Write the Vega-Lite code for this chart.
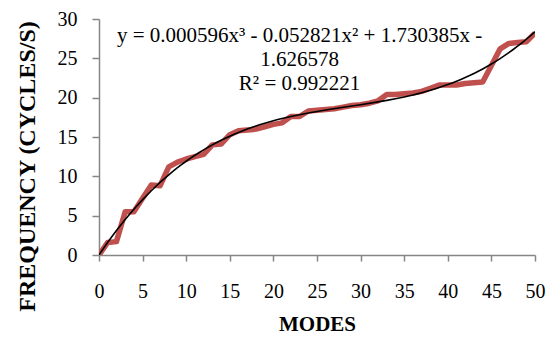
{
  "$schema": "https://vega.github.io/schema/vega-lite/v6.json",
  "autosize": "none",
  "width": 436,
  "height": 236,
  "padding": {"left": 99, "top": 19, "right": 20, "bottom": 85},
  "background": "white",
  "config": {
    "view": {"stroke": null},
    "font": "Liberation Serif",
    "axis": {
      "grid": false,
      "domainColor": "#868686",
      "tickColor": "#868686",
      "domainWidth": 1.5,
      "tickWidth": 1.5,
      "labelFont": "Liberation Serif",
      "labelFontSize": 20,
      "labelColor": "black",
      "labelOverlap": false,
      "titleFont": "Liberation Serif",
      "titleFontWeight": "bold",
      "titleColor": "black",
      "titleFontSize": 21
    }
  },
  "layer": [
    {
      "data": {
        "values": [
          {"mode": 0, "freq": 0}, {"mode": 1, "freq": 1.6}, {"mode": 2, "freq": 1.7},
          {"mode": 3, "freq": 5.5}, {"mode": 4, "freq": 5.5}, {"mode": 5, "freq": 7.2},
          {"mode": 6, "freq": 8.9}, {"mode": 7, "freq": 8.8}, {"mode": 8, "freq": 11.2},
          {"mode": 9, "freq": 11.8}, {"mode": 10, "freq": 12.2}, {"mode": 11, "freq": 12.5},
          {"mode": 12, "freq": 12.8}, {"mode": 13, "freq": 14.0}, {"mode": 14, "freq": 14.1},
          {"mode": 15, "freq": 15.3}, {"mode": 16, "freq": 15.8}, {"mode": 17, "freq": 15.9},
          {"mode": 18, "freq": 16.0}, {"mode": 19, "freq": 16.3}, {"mode": 20, "freq": 16.6},
          {"mode": 21, "freq": 16.8}, {"mode": 22, "freq": 17.6}, {"mode": 23, "freq": 17.6},
          {"mode": 24, "freq": 18.3}, {"mode": 25, "freq": 18.4}, {"mode": 26, "freq": 18.5},
          {"mode": 27, "freq": 18.6}, {"mode": 28, "freq": 18.8}, {"mode": 29, "freq": 19.0},
          {"mode": 30, "freq": 19.1}, {"mode": 31, "freq": 19.3}, {"mode": 32, "freq": 19.6},
          {"mode": 33, "freq": 20.4}, {"mode": 34, "freq": 20.4}, {"mode": 35, "freq": 20.5},
          {"mode": 36, "freq": 20.6}, {"mode": 37, "freq": 20.8}, {"mode": 38, "freq": 21.2},
          {"mode": 39, "freq": 21.6}, {"mode": 40, "freq": 21.6}, {"mode": 41, "freq": 21.6},
          {"mode": 42, "freq": 21.8}, {"mode": 43, "freq": 21.9}, {"mode": 44, "freq": 22.0},
          {"mode": 45, "freq": 24.1}, {"mode": 46, "freq": 26.2}, {"mode": 47, "freq": 26.9},
          {"mode": 48, "freq": 27.0}, {"mode": 49, "freq": 27.1}, {"mode": 50, "freq": 28.2}
        ]
      },
      "encoding": {
        "x": {
          "field": "mode", "type": "quantitative",
          "scale": {"domain": [0, 50], "nice": false},
          "axis": {"title": "MODES", "values": [0, 5, 10, 15, 20, 25, 30, 35, 40, 45, 50], "tickSize": 6, "labelPadding": 20, "titlePadding": 12, "labelFlush": false, "labelOverlap": false}
        },
        "y": {
          "field": "freq", "type": "quantitative",
          "scale": {"domain": [0, 30], "nice": false},
          "axis": {"title": "FREQUENCY (CYCLES/S)", "values": [0, 5, 10, 15, 20, 25, 30], "tickSize": 7, "labelPadding": 15, "titlePadding": 18, "titleFontSize": 24, "titleY": 147, "labelOverlap": false, "labelFlush": false, "labelBound": false}
        }
      },
      "layer": [
        {
          "mark": {"type": "line", "color": "#C0504D", "strokeWidth": 5.5, "strokeJoin": "round", "clip": true}
        },
        {
          "transform": [
            {"regression": "freq", "on": "mode", "method": "poly", "order": 3, "extent": [0, 50]}
          ],
          "mark": {"type": "line", "color": "black", "strokeWidth": 1.6, "clip": true}
        }
      ]
    },
    {
      "data": {"values": [{"label": "equation"}]},
      "mark": {
        "type": "text", "font": "Liberation Serif", "fontSize": 21, "fill": "black",
        "align": "center", "baseline": "middle", "lineHeight": 24
      },
      "encoding": {
        "x": {
          "datum": 23, "type": "quantitative",
          "scale": {"domain": [0, 50], "nice": false},
          "axis": {"title": "MODES", "values": [0, 5, 10, 15, 20, 25, 30, 35, 40, 45, 50], "tickSize": 6, "labelPadding": 20, "titlePadding": 12, "labelFlush": false, "labelOverlap": false}
        },
        "y": {
          "datum": 27.9, "type": "quantitative",
          "scale": {"domain": [0, 30], "nice": false},
          "axis": {"title": "FREQUENCY (CYCLES/S)", "values": [0, 5, 10, 15, 20, 25, 30], "tickSize": 7, "labelPadding": 15, "titlePadding": 18, "titleFontSize": 24, "titleY": 147, "labelOverlap": false, "labelFlush": false, "labelBound": false}
        },
        "text": {"value": ["y = 0.000596x³ - 0.052821x² + 1.730385x -", "1.626578", "R² = 0.992221"]}
      }
    }
  ]
}
